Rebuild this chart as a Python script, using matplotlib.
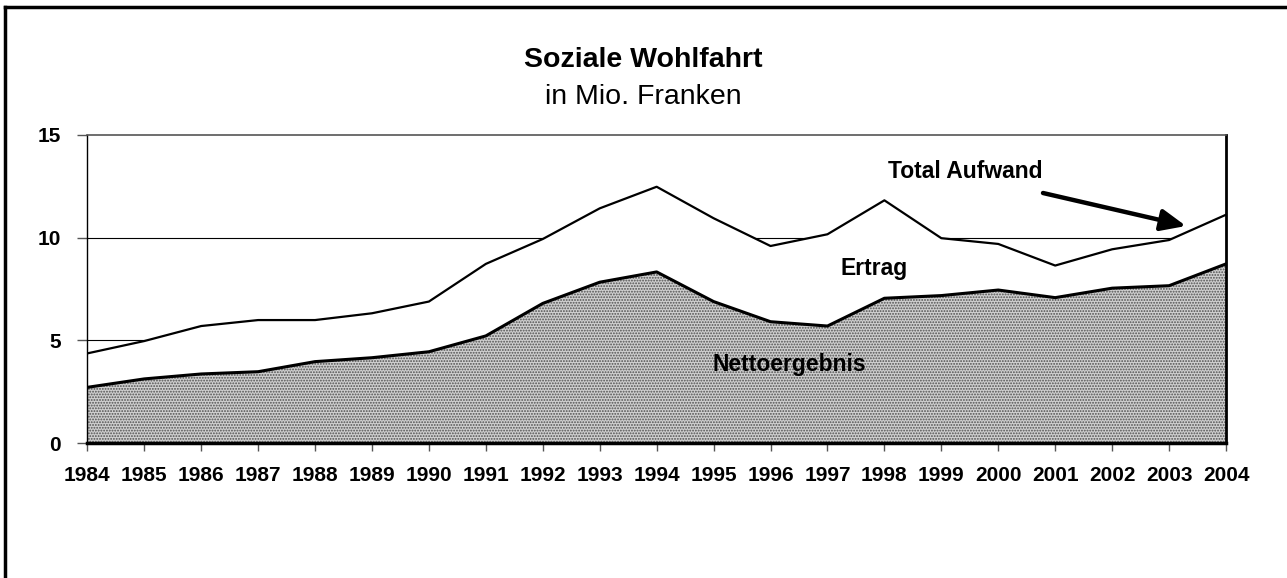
import matplotlib
matplotlib.use("Agg")
import matplotlib.pyplot as plt
from matplotlib.lines import Line2D

plt.rcParams['font.family'] = ['Liberation Sans', 'DejaVu Sans']
plt.rcParams['hatch.linewidth'] = 0.9

years = [1984, 1985, 1986, 1987, 1988, 1989, 1990, 1991, 1992, 1993, 1994,
         1995, 1996, 1997, 1998, 1999, 2000, 2001, 2002, 2003, 2004]
total_aufwand = [4.37, 4.97, 5.70, 5.99, 5.99, 6.32, 6.89, 8.72, 9.93, 11.42, 12.47,
                 10.94, 9.59, 10.16, 11.81, 9.97, 9.69, 8.64, 9.43, 9.88, 11.11]
nettoergebnis = [2.72, 3.13, 3.37, 3.48, 3.97, 4.16, 4.45, 5.22, 6.80, 7.83, 8.33,
                 6.89, 5.91, 5.70, 7.05, 7.18, 7.45, 7.08, 7.54, 7.66, 8.72]
y_ticks = [0, 5, 10, 15]

W, H = 1287, 578
fig = plt.figure(figsize=(W / 100, H / 100), dpi=100)
ax = fig.add_axes([87.3 / W, 1 - 443.3 / H, (1226 - 87.3) / W, (443.3 - 134.7) / H])

# gridlines
for v in y_ticks[1:-1]:
    ax.axhline(v, color='black', lw=0.8, zorder=1)

# netto area with dotted texture
ax.fill_between(years, 0, nettoergebnis, facecolor='#cfcfcf', hatch='......',
                edgecolor='#505050', linewidth=0, zorder=2)
ax.fill_between(years, nettoergebnis, total_aufwand, facecolor='white', linewidth=0, zorder=2)
ax.plot(years, total_aufwand, color='black', lw=1.6, zorder=3)
ax.plot(years, nettoergebnis, color='black', lw=2.2, zorder=3)

ax.set_xlim(years[0], years[-1])
ax.set_ylim(y_ticks[0], y_ticks[-1])
ax.set_xticks(years)
ax.set_xticklabels([str(y) for y in years], fontsize=15, fontweight='bold')
ax.set_yticks(y_ticks)
ax.set_yticklabels([str(v) for v in y_ticks], fontsize=15, fontweight='bold')
ax.tick_params(axis='x', direction='out', length=6, width=1, color='#555555', pad=10)
ax.tick_params(axis='y', direction='out', length=7, width=1, color='#555555', pad=12)

ax.spines['left'].set_linewidth(1.0)
ax.spines['bottom'].set_linewidth(2.5)
ax.spines['top'].set_linewidth(1.2)
ax.spines['top'].set_color('#555555')
ax.spines['right'].set_linewidth(2.0)
for s in ax.spines.values():
    s.set_zorder(5)


def px(x, y):
    return ax.transData.inverted().transform(fig.transFigure.transform((x / W, 1 - y / H)))


for txt, (x, y) in [('Nettoergebnis', (789, 365)), ('Ertrag', (874, 268)),
                    ('Total Aufwand', (965, 172))]:
    dx, dy = px(x, y)
    ax.text(dx, dy, txt, fontsize=16.5, fontweight='bold', ha='center', va='center', zorder=6)

a0 = px(1043, 193)
a1 = px(1186, 226)
ax.annotate('', xy=a1, xytext=a0,
            arrowprops=dict(arrowstyle='-|>,head_length=1.5,head_width=0.65',
                            color='black', lw=3.2, shrinkA=0, shrinkB=0), zorder=6)

fig.text(643 / W, 1 - 60 / H, 'Soziale Wohlfahrt', fontsize=20.5, fontweight='bold',
         ha='center', va='center')
fig.text(643 / W, 1 - 97 / H, 'in Mio. Franken', fontsize=20.5, ha='center', va='center')

# outer frame (left and top only visible)
fig.add_artist(Line2D([5 / W, 5 / W], [0, 1 - 7 / H], transform=fig.transFigure,
                      color='black', lw=2.5))
fig.add_artist(Line2D([5 / W, 1], [1 - 7 / H, 1 - 7 / H], transform=fig.transFigure,
                      color='black', lw=2.5))

fig.savefig('out.png', dpi=100, facecolor='white')
